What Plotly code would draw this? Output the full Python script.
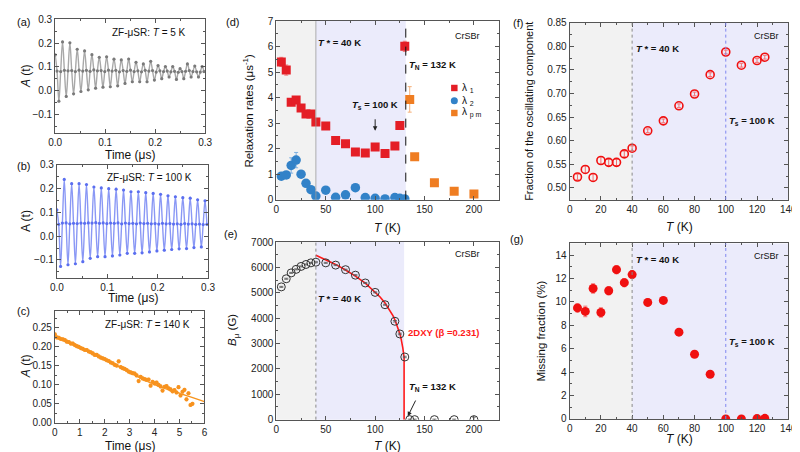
import plotly.graph_objects as go

W, H = 800, 452
FONT = "Arial, Liberation Sans, sans-serif"
FRAME = "#555555"

# ---------------- data ----------------
time_ab_us = [0.0, 0.0037, 0.0074, 0.0110, 0.0147, 0.0184, 0.0221, 0.0257, 0.0294, 0.0331,
              0.0368, 0.0404, 0.0441, 0.0478, 0.0515, 0.0551, 0.0588, 0.0625, 0.0662, 0.0698,
              0.0735, 0.0772, 0.0809, 0.0845, 0.0882, 0.0919, 0.0956, 0.0992, 0.1029, 0.1066,
              0.1103, 0.1139, 0.1176, 0.1213, 0.1250, 0.1286, 0.1323, 0.1360, 0.1397, 0.1433,
              0.1470, 0.1507, 0.1544, 0.1580, 0.1617, 0.1654, 0.1691, 0.1727, 0.1764, 0.1801,
              0.1838, 0.1874, 0.1911, 0.1948, 0.1985, 0.2021, 0.2058, 0.2095, 0.2132, 0.2168,
              0.2205, 0.2242, 0.2279, 0.2315, 0.2352, 0.2389, 0.2426, 0.2462, 0.2499, 0.2536,
              0.2573, 0.2609, 0.2646, 0.2683, 0.2720, 0.2756, 0.2793, 0.2830, 0.2867, 0.2903,
              0.2940, 0.2977]

asym_5K = [0.150, 0.082, -0.045, 0.080, 0.205, 0.085, -0.025, 0.083, 0.201, 0.084,
           -0.014, 0.080, 0.174, 0.086, -0.004, 0.082, 0.167, 0.085, 0.003, 0.081,
           0.151, 0.087, 0.010, 0.083, 0.140, 0.084, 0.014, 0.080, 0.142, 0.086,
           0.016, 0.082, 0.132, 0.085, 0.020, 0.079, 0.129, 0.084, 0.030, 0.081,
           0.133, 0.086, 0.037, 0.080, 0.119, 0.083, 0.037, 0.079, 0.112, 0.085,
           0.037, 0.082, 0.123, 0.084, 0.044, 0.078, 0.105, 0.083, 0.050, 0.080,
           0.101, 0.082, 0.057, 0.079, 0.101, 0.081, 0.047, 0.077, 0.092, 0.080,
           0.050, 0.081, 0.112, 0.084, 0.057, 0.080, 0.103, 0.079, 0.057, 0.078,
           0.101, 0.080]

asym_100K = [0.111, 0.050, -0.127, 0.055, 0.239, 0.056, -0.120, 0.052, 0.221, 0.054,
             -0.116, 0.053, 0.221, 0.055, -0.107, 0.054, 0.217, 0.056, -0.093, 0.055,
             0.207, 0.057, -0.086, 0.054, 0.203, 0.056, -0.086, 0.053, 0.200, 0.055,
             -0.083, 0.054, 0.198, 0.056, -0.079, 0.052, 0.194, 0.055, -0.072, 0.053,
             0.187, 0.054, -0.072, 0.052, 0.187, 0.055, -0.070, 0.053, 0.183, 0.054,
             -0.066, 0.052, 0.180, 0.053, -0.062, 0.051, 0.176, 0.054, -0.059, 0.052,
             0.170, 0.053, -0.056, 0.051, 0.166, 0.052, -0.053, 0.050, 0.162, 0.053,
             -0.052, 0.051, 0.160, 0.052, -0.048, 0.050, 0.153, 0.051, -0.045, 0.049,
             0.149, 0.050]

time_c_us = [0.00, 0.08, 0.16, 0.24, 0.32, 0.40, 0.48, 0.56, 0.64, 0.72,
             0.80, 0.88, 0.96, 1.04, 1.12, 1.20, 1.28, 1.36, 1.44, 1.52,
             1.60, 1.68, 1.76, 1.84, 1.92, 2.00, 2.08, 2.16, 2.24, 2.32,
             2.40, 2.48, 2.56, 2.64, 2.72, 2.80, 2.88, 2.96, 3.04, 3.12,
             3.20, 3.28, 3.36, 3.44, 3.52, 3.60, 3.68, 3.76, 3.84, 3.92,
             4.00, 4.08, 4.16, 4.24, 4.32, 4.40, 4.48, 4.56, 4.64, 4.72,
             4.80, 4.88, 4.96, 5.04, 5.12, 5.20, 5.28, 5.36, 5.44, 5.52]
asym_140K = [0.233, 0.225, 0.224, 0.221, 0.220, 0.218, 0.214, 0.213, 0.209, 0.209,
             0.205, 0.202, 0.200, 0.197, 0.195, 0.192, 0.192, 0.188, 0.186, 0.183,
             0.179, 0.179, 0.175, 0.172, 0.170, 0.168, 0.165, 0.163, 0.159, 0.157,
             0.153, 0.151, 0.162, 0.147, 0.144, 0.142, 0.139, 0.135, 0.133, 0.131,
             0.130, 0.125, 0.110, 0.121, 0.117, 0.115, 0.113, 0.114, 0.098, 0.108,
             0.104, 0.106, 0.100, 0.096, 0.085, 0.095, 0.097, 0.091, 0.088, 0.083,
             0.086, 0.080, 0.094, 0.072, 0.082, 0.087, 0.062, 0.078, 0.047, 0.050]
fit_c_time = [0.0, 0.5, 1.0, 1.5, 2.0, 2.5, 3.0, 3.5, 4.0, 4.5, 5.0, 5.5, 6.0]
fit_c_asym = [0.228, 0.212, 0.197, 0.182, 0.167, 0.150, 0.133, 0.116, 0.101, 0.089, 0.078, 0.067, 0.056]

T_rates = [5, 10, 15, 20, 25, 30, 35, 40, 50, 60, 70, 80, 90, 100, 110, 120, 125, 130]
lambda1 = [5.40, 5.08, 3.82, 3.91, 3.59, 3.36, 3.36, 3.04, 2.89, 2.32, 2.19, 1.87, 1.83, 2.06, 1.81, 2.10, 2.91, 6.01]
lambda1_err = [0.18, 0.20, 0.13, 0.12, 0.10, 0.08, 0.08, 0.06, 0.05, 0.05, 0.05, 0.05, 0.05, 0.05, 0.05, 0.05, 0.05, 0.20]
lambda2 = [0.92, 0.97, 1.34, 1.55, 1.00, 0.64, 0.39, 0.14, 0.37, 0.09, 0.19, 0.47, 0.08, 0.05, 0.03, 0.08, 0.05, 0.03]
lambda2_err = [0.05, 0.06, 0.30, 0.30, 0.08, 0.06, 0.05, 0.05, 0.05, 0.04, 0.04, 0.08, 0.03, 0.03, 0.03, 0.03, 0.03, 0.03]
T_pm = [135, 140, 160, 180, 200]
lambda_pm = [3.93, 1.68, 0.66, 0.33, 0.22]
lambda_pm_err = [0.50, 0.08, 0.05, 0.04, 0.04]

T_field = [5, 10, 15, 20, 25, 30, 35, 40, 50, 60, 70, 80, 90, 100, 110, 120, 125, 130, 135, 140, 160, 180, 200]
B_mu = [5234, 5554, 5785, 5925, 6040, 6117, 6181, 6207, 6181, 6092, 5912, 5695, 5388, 5017, 4530, 3878, 3378, 2470, 0, 0, 0, 0, 0]
B_err = [20, 20, 20, 20, 20, 20, 20, 20, 20, 20, 20, 20, 20, 20, 20, 30, 30, 30, 20, 20, 20, 20, 100]
T_fit = [40, 50, 60, 70, 80, 90, 100, 105, 110, 115, 118, 120, 122, 125, 126, 127, 128, 129.3, 129.3]
B_fit = [6480, 6310, 6120, 5900, 5660, 5380, 5040, 4835, 4600, 4310, 4100, 3940, 3750, 3390, 3240, 3060, 2830, 2450, 0]

T_frac = [5, 10, 15, 20, 25, 30, 35, 40, 50, 60, 70, 80, 90, 100, 110, 120, 125]
osc_frac = [0.523, 0.539, 0.522, 0.558, 0.554, 0.554, 0.572, 0.584, 0.621, 0.642, 0.674, 0.699, 0.740, 0.788, 0.760, 0.770, 0.777]
osc_err = [0.006, 0.008, 0.008, 0.008, 0.007, 0.007, 0.006, 0.005, 0.004, 0.004, 0.004, 0.004, 0.004, 0.004, 0.004, 0.004, 0.004]
missing = [9.49, 9.19, 11.15, 9.10, 10.96, 12.76, 11.65, 12.34, 9.96, 10.13, 7.42, 5.53, 3.82, 0.0, 0.0, 0.03, 0.05]
missing_err = [0.35, 0.45, 0.40, 0.40, 0.35, 0.35, 0.35, 0.30, 0.30, 0.25, 0.25, 0.20, 0.20, 0.10, 0.10, 0.15, 0.25]

T_STAR, T_S, T_N_D, T_N_E = 40, 100, 131, 129.3

# ---------------- helpers ----------------
def dx(l, r):
    return [l / W, r / W]

def dy(t, b):
    return [1 - b / H, 1 - t / H]

def axis(domain, rng, dtick, anchor, fmt=None, minor=None):
    d = dict(domain=domain, range=rng, anchor=anchor, showline=True, linecolor=FRAME, linewidth=1,
             mirror='ticks', ticks='inside', ticklen=4, tickcolor=FRAME, tickwidth=1,
             showgrid=False, zeroline=False, tick0=0, dtick=dtick, ticklabeloverflow='allow',
             tickfont=dict(size=10, color='#222', family=FONT), fixedrange=True)
    if fmt:
        d['tickformat'] = fmt
    if minor:
        d['minor'] = dict(ticks='inside', ticklen=2, tickcolor=FRAME, dtick=minor, tick0=0, showgrid=False)
    return d

panels = {
    '':  ((41, 194), (5.5, 122.5), [0, 0.3], [-0.18, 0.30], 0.1, 0.1, '.1f', '.1f', 0.05, 0.05),
    '2': ((42.7, 197), (155, 271), [0, 0.3], [-0.175, 0.30], 0.1, 0.1, '.1f', '.1f', 0.05, 0.05),
    '3': ((40.7, 193.3), (305, 420), [0, 6], [0, 0.295], 1, 0.05, None, '.2f', 0.5, 0.025),
    '4': ((266.7, 493.5), (7.3, 190.7), [0, 225], [0, 7], 50, 1, None, None, 25, 0.5),
    '5': ((266.7, 493.5), (234.3, 416.7), [0, 225], [0, 7000], 50, 1000, None, None, 25, 500),
    '6': ((566, 789), (9, 190.7), [0, 140], [0.475, 0.85], 20, 0.05, None, '.2f', 10, 0.025),
    '7': ((566, 789), (235.7, 416), [0, 140], [0, 15], 20, 2, None, None, 10, 1),
}

layout_axes = {}
for k, (px, py, xr, yr, xdt, ydt, xf, yf, xm, ym) in panels.items():
    layout_axes['xaxis' + k] = axis(dx(*px), xr, xdt, 'y' + k, xf, xm)
    layout_axes['yaxis' + k] = axis(dy(*py), yr, ydt, 'x' + k, yf, ym)

fig = go.Figure()

# (a)
fig.add_trace(go.Scatter(x=time_ab_us, y=asym_5K, mode='lines', line=dict(color='#a8a8a8', width=1.4, shape='spline'),
                         xaxis='x', yaxis='y', hoverinfo='skip'))
fig.add_trace(go.Scatter(x=time_ab_us, y=asym_5K, mode='markers', marker=dict(color='#7a7a7a', size=3.2),
                         error_y=dict(type='constant', value=0.006, color='#b8b8b8', thickness=0.8, width=0),
                         xaxis='x', yaxis='y'))
# (b)
fig.add_trace(go.Scatter(x=time_ab_us, y=asym_100K, mode='lines', line=dict(color='#8a98f5', width=1.4, shape='spline'),
                         xaxis='x2', yaxis='y2', hoverinfo='skip'))
fig.add_trace(go.Scatter(x=time_ab_us, y=asym_100K, mode='markers', marker=dict(color='#5b6ff0', size=3.2),
                         error_y=dict(type='constant', value=0.006, color='#a8b2f7', thickness=0.8, width=0),
                         xaxis='x2', yaxis='y2'))
# (c)
fig.add_trace(go.Scatter(x=fit_c_time, y=fit_c_asym, mode='lines', line=dict(color='#f7941d', width=1.4, shape='spline'),
                         xaxis='x3', yaxis='y3', hoverinfo='skip'))
fig.add_trace(go.Scatter(x=time_c_us, y=asym_140K, mode='markers', marker=dict(color='#f7921e', size=4.2),
                         error_y=dict(type='constant', value=0.004, color='#fbc07a', thickness=0.8, width=1.2),
                         xaxis='x3', yaxis='y3'))
# (d)
fig.add_trace(go.Scatter(x=T_rates, y=lambda1, mode='markers', name='λ1',
                         marker=dict(symbol='square', color='#e41e26', size=9),
                         error_y=dict(type='data', array=lambda1_err, color='#f08080', thickness=1, width=2),
                         xaxis='x4', yaxis='y4'))
fig.add_trace(go.Scatter(x=T_rates, y=lambda2, mode='markers', name='λ2',
                         marker=dict(symbol='circle', color='#3282c8', size=9.5),
                         error_y=dict(type='data', array=lambda2_err, color='#7fb0e0', thickness=1, width=2),
                         xaxis='x4', yaxis='y4'))
fig.add_trace(go.Scatter(x=T_pm, y=lambda_pm, mode='markers', name='λpm',
                         marker=dict(symbol='square', color='#ef7d22', size=9),
                         error_y=dict(type='data', array=lambda_pm_err, color='#f5b07a', thickness=1, width=2),
                         xaxis='x4', yaxis='y4'))
# (e)
fig.add_trace(go.Scatter(x=T_fit, y=B_fit, mode='lines', line=dict(color='#ff1a1a', width=1.6),
                         xaxis='x5', yaxis='y5', hoverinfo='skip'))
fig.add_trace(go.Scatter(x=T_field, y=B_mu, mode='markers',
                         marker=dict(symbol='circle-open', color='#333333', size=8, line=dict(width=1)),
                         error_y=dict(type='data', array=B_err, color='#555', thickness=0.8, width=2),
                         xaxis='x5', yaxis='y5'))
# (f)
fig.add_trace(go.Scatter(x=T_frac, y=osc_frac, mode='markers',
                         marker=dict(symbol='circle-open', color='#f01010', size=8, line=dict(width=1.6)),
                         error_y=dict(type='data', array=osc_err, color='#f47070', thickness=1, width=2),
                         xaxis='x6', yaxis='y6'))
# (g)
fig.add_trace(go.Scatter(x=T_frac, y=missing, mode='markers',
                         marker=dict(symbol='circle', color='#f01010', size=9),
                         error_y=dict(type='data', array=missing_err, color='#f47070', thickness=1, width=2),
                         xaxis='x7', yaxis='y7'))

# ---------------- shapes ----------------
GRAY_BG = '#f2f2f2'
BLUE_BG = '#ebebfb'
shapes = []

def shade(ax, x0, x1, color):
    shapes.append(dict(type='rect', xref='x' + ax, yref='y' + ax + ' domain', x0=x0, x1=x1, y0=0, y1=1,
                       fillcolor=color, line=dict(width=0), layer='below'))

def vline(ax, x, color, dash, width=1):
    shapes.append(dict(type='line', xref='x' + ax, yref='y' + ax + ' domain', x0=x, x1=x, y0=0, y1=1,
                       line=dict(color=color, width=width, dash=dash), layer='above'))

shade('4', 0, T_STAR, GRAY_BG); shade('4', T_STAR, T_N_D, BLUE_BG)
vline('4', T_STAR, '#9a9a9a', 'solid', 0.8); vline('4', T_N_D, '#111111', 'dash', 1)
shade('5', 0, T_STAR, GRAY_BG); shade('5', T_STAR, T_N_E, BLUE_BG)
vline('5', T_STAR, '#888888', 'dot', 1)
for ax in ('6', '7'):
    shade(ax, 0, T_STAR, GRAY_BG); shade(ax, T_STAR, 140, BLUE_BG)
    vline(ax, T_STAR, '#888888', 'dot', 1); vline(ax, T_S, '#7f86f0', 'dot', 1)

# legend symbols for (d)
def px_box(cx, cy, s):
    return dict(x0=(cx - s) / W, x1=(cx + s) / W, y0=1 - (cy + s) / H, y1=1 - (cy - s) / H)

shapes.append(dict(type='rect', xref='paper', yref='paper', fillcolor='#e41e26', line=dict(width=0), **px_box(448.3, 76, 3.3)))
shapes.append(dict(type='circle', xref='paper', yref='paper', fillcolor='#3282c8', line=dict(width=0), **px_box(448.3, 89, 3.6)))
shapes.append(dict(type='rect', xref='paper', yref='paper', fillcolor='#ef7d22', line=dict(width=0), **px_box(448.3, 101.7, 3.3)))

# ---------------- annotations ----------------
annotations = []

def ann(text, x, y, size=10, color='#111111', bold=False, angle=0, xanchor='center'):
    if bold:
        text = '<b>' + text + '</b>'
    annotations.append(dict(text=text, x=x / W, y=1 - y / H, xref='paper', yref='paper', showarrow=False,
                            xanchor=xanchor, yanchor='middle', textangle=angle,
                            font=dict(size=size, color=color, family=FONT)))

# panel labels
ann('(a)', 9, 8, 11); ann('(b)', 9, 156, 11); ann('(c)', 9, 305, 11)
ann('(d)', 222, 8, 11); ann('(e)', 220, 226, 11); ann('(f)', 513, 9, 11); ann('(g)', 512, 231, 11)

# axis titles
ann('<i>A</i> (t)', 12, 64, 12, angle=-90)
ann('A (t)', 12, 213, 12, angle=-90)
ann('<i>A</i> (t)', 12, 362, 12, angle=-90)
ann('Time (μs)', 117, 145, 12); ann('Time (μs)', 120, 292, 12); ann('Time (μs)', 117, 443.5, 12)
ann('Relaxation rates (μs<sup>-1</sup>)', 238, 99, 11.5, angle=-90)
ann('<i>B</i><sub>μ</sub> (G)', 223, 325, 11.5, angle=-90)
ann('Fraction of the oscillating component', 525, 100, 11, angle=-90)
ann('Missing fraction (%)', 537, 326, 11.5, angle=-90)
ann('<i>T</i> (K)', 380, 220, 12); ann('<i>T</i> (K)', 380, 443.5, 12)
ann('<i>T</i> (K)', 678, 219, 12); ann('<i>T</i> (K)', 678, 437, 12)

# in-panel text
ann('ZF-μSR: <i>T</i> = 5 K', 137, 19, 10)
ann('ZF-μSR: <i>T</i> = 100 K', 137, 168, 10)
ann('ZF-μSR: <i>T</i> = 140 K', 135, 319, 10)

ann('<i>T</i> * = 40 K', 331, 29, 9.5, bold=True)
ann('<i>T</i><sub>N</sub> = 132 K', 426, 52, 9.5, bold=True)
ann('CrSBr', 462, 23, 9)
ann('<i>T</i><sub>s</sub> = 100 K', 367, 93, 9.5, bold=True)
ann('λ <sub>1</sub>', 454, 76, 10, xanchor='left')
ann('λ <sub>2</sub>', 454, 89, 10, xanchor='left')
ann('λ <sub>p m</sub>', 454, 101.7, 10, xanchor='left')

ann('CrSBr', 462, 247, 9)
ann('<i>T</i> * = 40 K', 331, 292, 9.5, bold=True)
ann('2DXY (β =0.231)', 437, 327, 9.5, color='#ff1a1a', bold=True)
ann('<i>T</i><sub>N</sub> = 132 K', 426, 383, 9.5, bold=True)

ann('<i>T</i> * = 40 K', 656, 35, 9.5, bold=True)
ann('CrSBr', 767, 23, 9)
ann('<i>T</i><sub>s</sub> = 100 K', 752, 110, 9.5, bold=True)
ann('<i>T</i> * = 40 K', 656, 252, 9.5, bold=True)
ann('CrSBr', 767, 249, 9)
ann('<i>T</i><sub>s</sub> = 100 K', 752, 337, 9.5, bold=True)

# arrows
annotations.append(dict(text='', x=T_S, y=2.70, xref='x4', yref='y4', showarrow=True, ax=0, ay=-13,
                        arrowhead=2, arrowsize=0.9, arrowwidth=1, arrowcolor='#222'))
annotations.append(dict(text='', x=133, y=130, xref='x5', yref='y5', showarrow=True, ax=8.6, ay=-17.3,
                        arrowhead=2, arrowsize=0.9, arrowwidth=1, arrowcolor='#222'))

fig.update_layout(
    width=W, height=H, margin=dict(l=0, r=0, t=0, b=0),
    paper_bgcolor='white', plot_bgcolor='white', showlegend=False,
    font=dict(family=FONT, size=10, color='#222'),
    shapes=shapes, annotations=annotations, **layout_axes)

fig.write_html('out.html')
